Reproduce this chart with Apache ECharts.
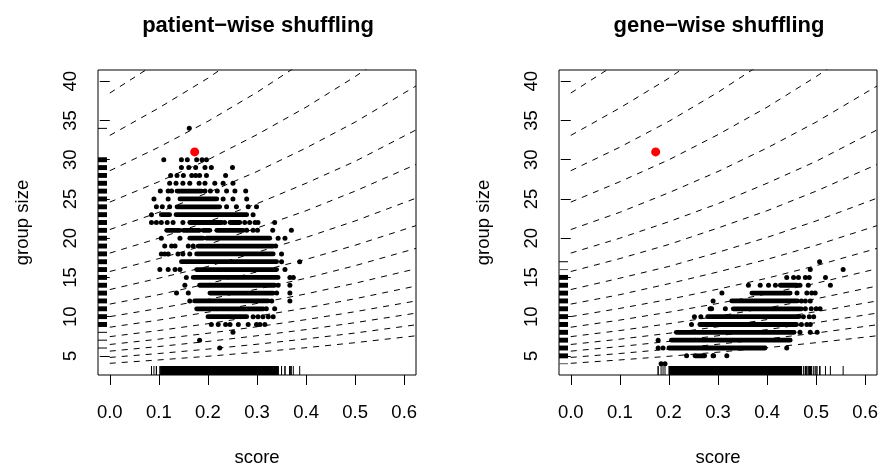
<!DOCTYPE html>
<html><head><meta charset="utf-8">
<script src="https://cdn.jsdelivr.net/npm/echarts@6/dist/echarts.min.js"></script>
<style>html,body{margin:0;padding:0;background:#fff}#c{width:878px;height:463px}</style>
</head><body><div id="c"></div>
<script>
// ---------------- data ----------------
const xTicks = [0, 0.1, 0.2, 0.3, 0.4, 0.5, 0.6];
const yTicks = [5, 10, 15, 20, 25, 30, 35, 40];
const panelTitles = ['patient\u2212wise shuffling', 'gene\u2212wise shuffling'];
const xName = 'score';
const yName = 'group size';
const observed = [0.173, 31];

// dashed reference curves: group size read at these scores
const contourScores = [0, 0.1, 0.2, 0.3, 0.4, 0.5, 0.624];
const contourSizes = [
  [38.5, 42.5, 47.0, 52.0, 57.4, 63.5, 71.8],
  [33.1, 36.6, 40.4, 44.7, 49.4, 54.6, 61.8],
  [28.6, 31.6, 34.9, 38.6, 42.7, 47.2, 53.4],
  [24.6, 27.2, 30.0, 33.2, 36.7, 40.6, 45.9],
  [21.1, 23.3, 25.8, 28.5, 31.5, 34.8, 39.4],
  [18.1, 20.0, 22.1, 24.4, 27.0, 29.8, 33.8],
  [15.75, 17.4, 19.2, 21.3, 23.5, 26.0, 29.4],
  [13.45, 14.9, 16.4, 18.2, 20.1, 22.2, 25.1],
  [11.6, 12.8, 14.2, 15.7, 17.3, 19.1, 21.6],
  [10.0, 11.05, 12.2, 13.5, 14.9, 16.5, 18.7],
  [8.65, 9.56, 10.57, 11.68, 12.9, 14.26, 16.1],
  [7.45, 8.23, 9.1, 10.06, 11.1, 12.28, 13.9],
  [6.45, 7.13, 7.88, 8.71, 9.62, 10.63, 12.0],
  [5.6, 6.19, 6.84, 7.56, 8.35, 9.23, 10.45],
  [4.8, 5.3, 5.86, 6.48, 7.16, 7.91, 8.96],
  [4.05, 4.48, 4.95, 5.47, 6.04, 6.68, 7.56]
];

// patient-wise shuffling: dense runs [scoreFrom, scoreTo, groupSize]
const patientRuns = [
  [0.137, 0.187, 26], [0.143, 0.218, 25], [0.137, 0.224, 24],
  [0.105, 0.122, 23], [0.135, 0.279, 23],
  [0.163, 0.228, 22], [0.245, 0.265, 22],
  [0.116, 0.143, 21], [0.150, 0.183, 21], [0.190, 0.204, 21], [0.218, 0.272, 21],
  [0.163, 0.190, 20], [0.197, 0.326, 20],
  [0.180, 0.333, 19], [0.177, 0.333, 18], [0.146, 0.340, 17], [0.177, 0.340, 16],
  [0.170, 0.343, 15], [0.183, 0.336, 14], [0.204, 0.333, 13], [0.173, 0.323, 12],
  [0.177, 0.313, 11], [0.200, 0.279, 10]
];
// patient-wise shuffling: isolated points [score, groupSize]
const patientPoints = [
  [0.162, 34],
  [0.110, 30], [0.146, 30], [0.158, 30], [0.177, 30], [0.188, 30], [0.197, 30],
  [0.146, 29], [0.161, 29], [0.175, 29], [0.194, 29], [0.207, 29], [0.250, 29],
  [0.124, 28], [0.137, 28], [0.150, 28], [0.167, 28], [0.175, 28], [0.183, 28], [0.197, 28], [0.236, 28],
  [0.122, 27], [0.135, 27], [0.149, 27], [0.163, 27], [0.182, 27], [0.194, 27], [0.214, 27], [0.231, 27], [0.251, 27],
  [0.103, 26], [0.119, 26], [0.126, 26], [0.194, 26], [0.205, 26], [0.219, 26], [0.238, 26], [0.255, 26], [0.277, 26],
  [0.090, 25], [0.119, 25], [0.231, 25], [0.251, 25], [0.279, 25],
  [0.095, 24], [0.107, 24], [0.122, 24], [0.238, 24], [0.258, 24], [0.282, 24], [0.299, 24],
  [0.085, 23], [0.292, 23],
  [0.085, 22], [0.095, 22], [0.105, 22], [0.117, 22], [0.129, 22], [0.149, 22], [0.234, 22], [0.275, 22], [0.285, 22], [0.296, 22], [0.302, 22], [0.336, 22],
  [0.279, 21], [0.292, 21], [0.301, 21], [0.332, 21], [0.370, 21],
  [0.105, 20], [0.143, 20], [0.343, 20], [0.357, 20],
  [0.112, 19], [0.126, 19], [0.133, 19], [0.160, 19], [0.170, 19], [0.338, 19],
  [0.105, 18], [0.112, 18], [0.119, 18], [0.139, 18], [0.149, 18], [0.163, 18], [0.350, 18],
  [0.350, 17], [0.387, 17],
  [0.102, 16], [0.119, 16], [0.133, 16], [0.143, 16], [0.357, 16],
  [0.156, 15], [0.367, 15], [0.374, 15],
  [0.153, 14], [0.343, 14], [0.367, 14],
  [0.136, 13], [0.160, 13], [0.340, 13], [0.367, 13],
  [0.163, 12], [0.330, 12], [0.367, 12],
  [0.319, 11], [0.336, 11],
  [0.292, 10], [0.302, 10], [0.312, 10], [0.323, 10], [0.333, 10],
  [0.207, 9], [0.221, 9], [0.236, 9], [0.245, 9], [0.262, 9], [0.282, 9], [0.299, 9], [0.306, 9], [0.316, 9],
  [0.251, 8], [0.183, 7], [0.224, 6]
];

// gene-wise shuffling
const geneRuns = [
  [0.427, 0.461, 14], [0.369, 0.447, 13], [0.328, 0.462, 12], [0.331, 0.470, 11],
  [0.279, 0.465, 10], [0.263, 0.460, 9], [0.215, 0.455, 8], [0.205, 0.447, 7],
  [0.200, 0.396, 6], [0.253, 0.273, 5]
];
const genePoints = [
  [0.507, 17],
  [0.488, 16], [0.555, 16],
  [0.440, 15], [0.454, 15], [0.464, 15], [0.478, 15], [0.486, 15], [0.519, 15],
  [0.362, 14], [0.386, 14], [0.403, 14], [0.417, 14], [0.467, 14], [0.484, 14], [0.529, 14],
  [0.308, 13], [0.461, 13], [0.481, 13], [0.491, 13], [0.498, 13],
  [0.290, 12], [0.470, 12], [0.478, 12], [0.488, 12],
  [0.284, 11], [0.287, 11], [0.315, 11], [0.478, 11], [0.490, 11], [0.500, 11], [0.508, 11],
  [0.252, 10], [0.265, 10], [0.474, 10], [0.486, 10], [0.495, 10],
  [0.246, 9], [0.470, 9], [0.481, 9], [0.488, 9],
  [0.467, 8], [0.488, 8], [0.502, 8],
  [0.178, 7],
  [0.178, 6], [0.188, 6], [0.440, 6],
  [0.236, 5], [0.290, 5], [0.291, 5], [0.318, 5],
  [0.184, 4], [0.192, 4]
];

// ---------------- chart ----------------
const FONT = "'Liberation Sans', Arial, Helvetica, sans-serif";
const X_MIN = -0.024, X_MAX = 0.624, Y_MIN = 2.56, Y_MAX = 41.44;
const grids = [
  { left: 98, top: 70, width: 318, height: 305 },
  { left: 559, top: 70, width: 318, height: 305 }
];
const titleCenters = [258, 719];
const RUG = 9;

const panels = [
  { runs: patientRuns, points: patientPoints },
  { runs: geneRuns, points: genePoints }
];

const option = {
  animation: false,
  backgroundColor: '#fff',
  title: panelTitles.map((t, i) => ({
    text: t, left: titleCenters[i], top: 15, textAlign: 'center', padding: 0,
    textStyle: { fontFamily: FONT, fontSize: 22, fontWeight: 'bold', color: '#000' }
  })),
  grid: grids.map(g => Object.assign({ show: true, borderColor: '#000', borderWidth: 1, backgroundColor: 'transparent', containLabel: false, outerBoundsMode: 'none' }, g)),
  xAxis: grids.map((g, i) => ({
    gridIndex: i, type: 'value', min: X_MIN, max: X_MAX,
    splitLine: { show: false }, axisLine: { show: false },
    axisTick: { show: true, length: 10, customValues: xTicks, lineStyle: { color: '#000', width: 1 } },
    axisLabel: { customValues: xTicks, formatter: v => v.toFixed(1), fontFamily: FONT, fontSize: 18.5, color: '#000', margin: 28 },
    name: xName, nameLocation: 'middle', nameGap: 73,
    nameTextStyle: { fontFamily: FONT, fontSize: 18.5, color: '#000' }
  })),
  yAxis: grids.map((g, i) => ({
    gridIndex: i, type: 'value', min: Y_MIN, max: Y_MAX,
    splitLine: { show: false }, axisLine: { show: false },
    axisTick: { show: true, length: 10, customValues: yTicks, lineStyle: { color: '#000', width: 1 } },
    axisLabel: { customValues: yTicks, rotate: 90, fontFamily: FONT, fontSize: 18.5, color: '#000', margin: 18 },
    name: yName, nameLocation: 'middle', nameGap: 66, nameRotate: 90,
    nameTextStyle: { fontFamily: FONT, fontSize: 18.5, color: '#000' }
  })),
  series: []
};

panels.forEach((p, i) => {
  // dashed curves
  contourSizes.forEach(row => {
    option.series.push({
      type: 'line', xAxisIndex: i, yAxisIndex: i, silent: true, clip: true, z: 2,
      symbol: 'none', data: contourScores.map((s, j) => [s, row[j]]),
      lineStyle: { color: '#000', width: 1, type: [6, 6] }
    });
  });
  // dense runs of points
  option.series.push({
    type: 'custom', xAxisIndex: i, yAxisIndex: i, silent: true, clip: true, z: 3,
    encode: { x: [0, 1], y: 2 },
    data: p.runs,
    renderItem: (params, api) => {
      const a = api.coord([api.value(0), api.value(2)]);
      const b = api.coord([api.value(1), api.value(2)]);
      return { type: 'line', shape: { x1: a[0], y1: a[1], x2: b[0], y2: b[1] },
        style: { stroke: '#000', lineWidth: 4.8, lineCap: 'round' } };
    }
  });
  // isolated points
  option.series.push({
    type: 'scatter', xAxisIndex: i, yAxisIndex: i, silent: true, z: 3,
    symbol: 'circle', symbolSize: 5, itemStyle: { color: '#000', opacity: 1 },
    data: p.points
  });
  // x rug
  const xr = p.runs.map(r => [r[0], r[1]]).concat(p.points.map(q => [q[0], q[0]]));
  option.series.push({
    type: 'custom', xAxisIndex: i, yAxisIndex: i, silent: true, z: 4,
    encode: { x: [0, 1] },
    data: xr,
    renderItem: (params, api) => {
      const cs = params.coordSys;
      const bottom = cs.y + cs.height;
      const a = api.coord([api.value(0), Y_MIN])[0];
      const b = api.coord([api.value(1), Y_MIN])[0];
      return { type: 'rect', shape: { x: a - 0.5, y: bottom - RUG, width: Math.max(1, b - a + 1), height: RUG },
        style: { fill: '#000' } };
    }
  });
  // y rug
  const counts = {};
  p.points.forEach(q => { counts[q[1]] = (counts[q[1]] || 0) + 1; });
  p.runs.forEach(r => { counts[r[2]] = (counts[r[2]] || 0) + 10; });
  const yr = Object.keys(counts).map(k => [Number(k), counts[k]]);
  option.series.push({
    type: 'custom', xAxisIndex: i, yAxisIndex: i, silent: true, z: 4,
    encode: { y: 0 },
    data: yr,
    renderItem: (params, api) => {
      const cs = params.coordSys;
      const v = api.value(0), n = api.value(1);
      const spread = n >= 3 ? 0.25 : 0;
      const y1 = api.coord([0, v + spread])[1];
      const y2 = api.coord([0, v - spread])[1];
      return { type: 'rect', shape: { x: cs.x, y: y1 - 0.5, width: RUG, height: Math.max(1, y2 - y1 + 1) },
        style: { fill: n >= 2 && n < 3 ? '#555' : '#000' } };
    }
  });
  // observed value
  option.series.push({
    type: 'scatter', xAxisIndex: i, yAxisIndex: i, silent: true, z: 5,
    symbol: 'circle', symbolSize: 9, itemStyle: { color: '#ff0000', opacity: 1 },
    data: [observed]
  });
});

const chart = echarts.init(document.getElementById('c'), null, { renderer: 'canvas' });
chart.setOption(option);
</script>
</body></html>
